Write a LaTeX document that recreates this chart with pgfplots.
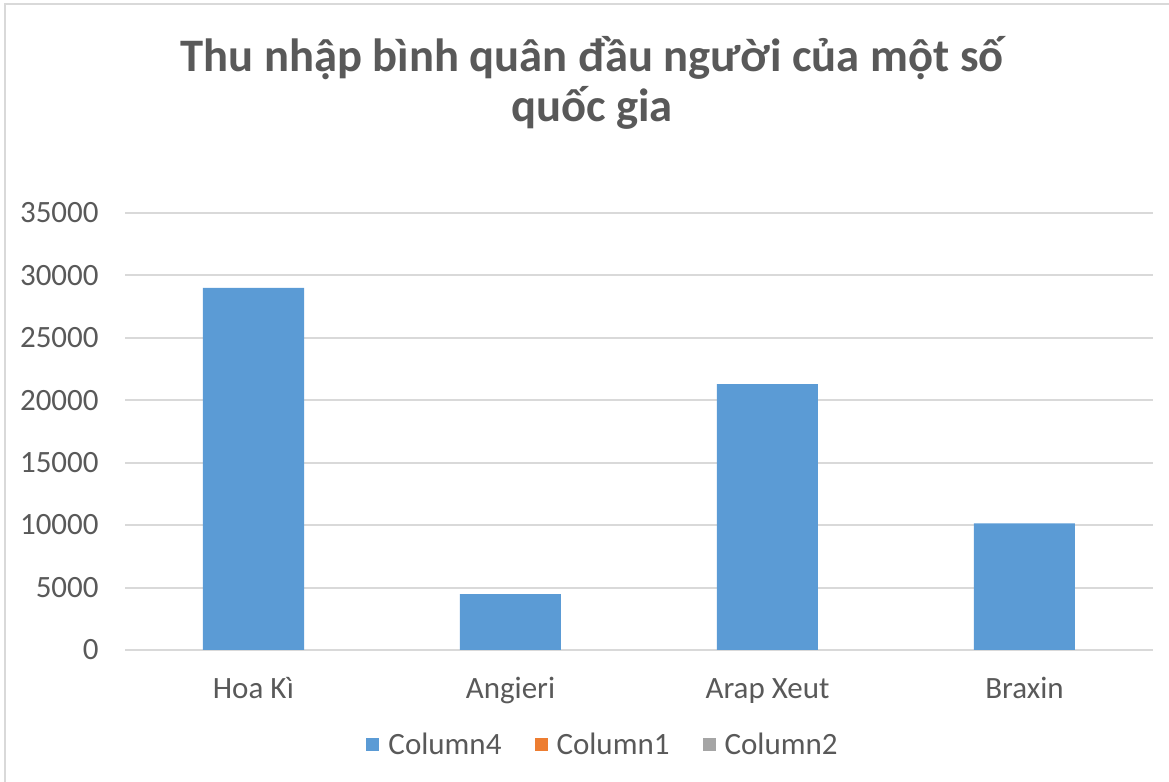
\documentclass[border=0pt]{standalone}
\usepackage{pgfplots}
\pgfplotsset{compat=1.18}
\usepackage{fontspec}
\setmainfont{Carlito}
\definecolor{barblue}{HTML}{5B9BD5}
\definecolor{barorange}{HTML}{ED7D31}
\definecolor{bargray}{HTML}{A5A5A5}
\definecolor{txt}{HTML}{595959}
\definecolor{gridc}{HTML}{D9D9D9}
\begin{document}
\begin{tikzpicture}
\path[use as bounding box] (0pt,0pt) rectangle (584.5pt,391pt);
\draw[gridc, line width=1.2pt] (2.5pt,0pt) -- (2.5pt,389pt) -- (584.5pt,389pt);
\node[txt, font=\fontsize{23.3}{26}\selectfont\bfseries, anchor=base, inner sep=0] at (296pt,355pt) {Thu nhập bình quân đầu người của một số};
\node[txt, font=\fontsize{23.3}{26}\selectfont\bfseries, anchor=base, inner sep=0] at (296pt,330pt) {quốc gia};
\begin{axis}[
  at={(62.5pt,66pt)}, anchor=south west,
  scale only axis, width=514pt, height=218.5pt,
  xmin=-0.5, xmax=3.5, ymin=0, ymax=35000,
  ytick={0,5000,...,35000},
  xtick={0,1,2,3},
  xticklabels={Hoa Kì, Angieri, Arap Xeut, Braxin},
  axis x line=bottom, axis y line=left,
  x axis line style={gridc, line width=1pt, -},
  y axis line style={draw=none},
  ymajorgrids, grid style={gridc, line width=1pt},
  major tick length=0pt, tick style={draw=none},
  scaled y ticks=false,
  /pgf/number format/assume math mode=true,
  /pgf/number format/fixed,
  /pgf/number format/1000 sep={},
  ticklabel style={font=\fontsize{15.5}{18}\selectfont, text=txt, inner sep=0pt},
  yticklabel style={anchor=base east, xshift=-13pt, yshift=-4.9pt},
  xticklabel style={anchor=base, yshift=-24.5pt},
  legend columns=3,
  legend style={draw=none, fill=none, at={(0.466,-0.217)}, anchor=center,
    font=\fontsize{15.5}{18}\selectfont, text=txt,
    /tikz/every even column/.append style={column sep=14.5pt},
    /tikz/every odd column/.append style={column sep=2.5pt}},
  legend image code/.code={\fill[#1] (0pt,-3.25pt) rectangle (6.5pt,3.25pt);},
]
\addplot[ybar, bar width=50.5pt, fill=barblue, draw=none, forget plot]
  coordinates {(0,29000) (1,4480) (2,21300) (3,10150)};
\addlegendimage{fill=barblue, draw=none}
\addlegendentry{Column4}
\addlegendimage{fill=barorange, draw=none}
\addlegendentry{Column1}
\addlegendimage{fill=bargray, draw=none}
\addlegendentry{Column2}
\end{axis}
\end{tikzpicture}
\end{document}
